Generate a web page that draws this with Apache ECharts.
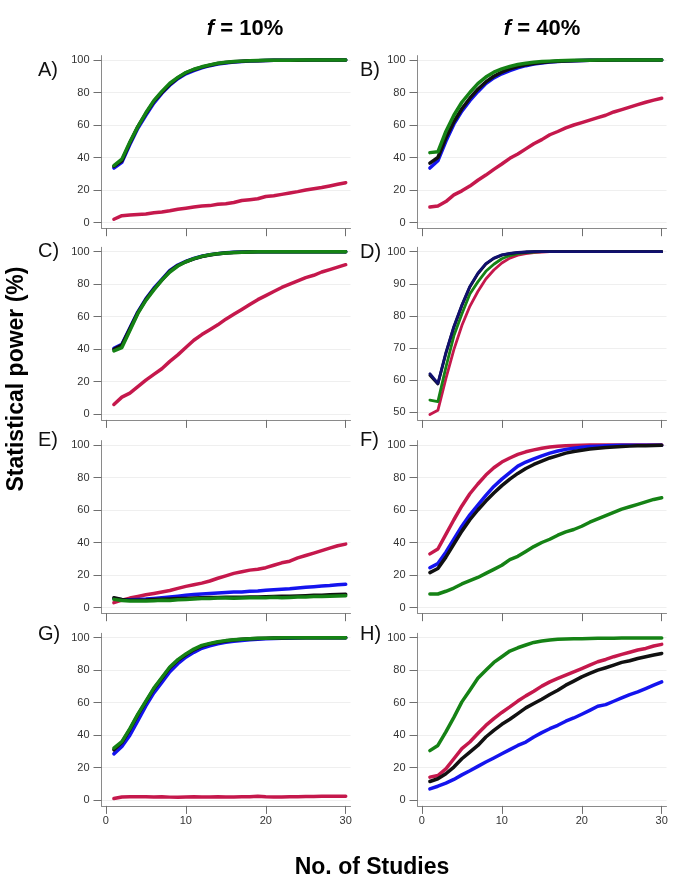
<!DOCTYPE html>
<html>
<head>
<meta charset="utf-8">
<title>Statistical power</title>
<script src="https://cdn.jsdelivr.net/npm/echarts@6.0.0/dist/echarts.min.js"></script>
<style>
html,body{margin:0;padding:0;background:#fff;}
#main{width:685px;height:885px;}
</style>
</head>
<body>
<div id="main"></div>
<script>
// x values: number of studies
var studies = [1,2,3,4,5,6,7,8,9,10,11,12,13,14,15,16,17,18,19,20,21,22,23,24,25,26,27,28,29,30];
var xTicks = [0,10,20,30];
var yTicks = [0,20,40,60,80,100];
var yTicksD = [50,60,70,80,90,100];

// A) f = 10%
var aBlue  = [33.5,37,48,58,66,73.5,79.5,84.5,88.5,91.5,93.5,95.2,96.5,97.5,98.2,98.7,99.1,99.4,99.6,99.7,99.8,99.8,99.9,99.9,99.9,100,100,100,100,100];
var aBlack = [34.5,38,49,59,67,74.5,80,85,89,92,94,95.6,96.8,97.8,98.4,98.9,99.2,99.5,99.6,99.7,99.8,99.9,99.9,99.9,100,100,100,100,100,100];
var aGreen = [35,39,49.5,59,67.5,75,80.7,85.7,89.3,92.3,94.3,95.8,97,98,98.6,99,99.3,99.5,99.7,99.8,99.8,99.9,99.9,100,100,100,100,100,100,100];
var aRed   = [2,4.2,4.6,5,5.3,6,6.5,7.2,8.2,8.8,9.5,10.1,10.4,11.2,11.6,12.3,13.5,14,14.6,16,16.5,17.3,18.2,19,20,20.8,21.5,22.5,23.5,24.5];
// B) f = 40%
var bBlue  = [33.5,38,50,60.5,68.5,75,80.5,85.5,89,91.5,93.5,95.2,96.5,97.5,98.2,98.8,99.1,99.4,99.6,99.7,99.8,99.8,99.9,99.9,100,100,100,100,100,100];
var bBlack = [36.5,40,52,62,70,76.5,82,86.5,90,92.5,94.5,96,97,97.8,98.4,98.9,99.2,99.4,99.6,99.7,99.8,99.9,99.9,100,100,100,100,100,100,100];
var bGreen = [43,43.5,56,66,74,80,85.5,89.5,92.5,94.5,96,97.2,98,98.6,99,99.3,99.5,99.7,99.8,99.9,99.9,100,100,100,100,100,100,100,100,100];
var bRed   = [9.5,10.2,12.9,17,19.5,22.4,26,29.2,32.7,36,39.5,42.2,45.3,48.5,51,54,56,58.2,60,61.5,63,64.5,66,68,69.5,71,72.5,74,75.3,76.5];
// C)
var cBlue  = [40.5,43,53,63,71,77.5,83,88.5,91.8,94,95.8,97.2,98.1,98.8,99.3,99.6,99.8,99.9,100,100,100,100,100,100,100,100,100,100,100,100];
var cBlack = [40,42.5,52.5,62.5,70.5,77,82.5,88,91.5,93.8,95.6,97,98,98.7,99.2,99.5,99.7,99.8,99.9,100,100,100,100,100,100,100,100,100,100,100];
var cGreen = [39,41,51.5,62,70,76.5,82.5,87.5,91.2,93.8,95.7,97.1,98.1,98.8,99.2,99.5,99.7,99.8,99.9,100,100,100,100,100,100,100,100,100,100,100];
var cRed   = [6,10.5,13,17,21,24.5,28,32.5,36.5,41,45.5,49,52,55,58.5,61.5,64.5,67.5,70.5,73,75.5,78,80,82,84,85.5,87.5,89,90.5,92];
// D)
var dBlue  = [62,59,68.6,76.7,83.4,89.2,93.3,96.3,98,99,99.5,99.8,99.9,100,100,100,100,100,100,100,100,100,100,100,100,100,100,100,100,100];
var dBlack = [61.5,58.8,68.3,76.5,83.2,89,93.1,96.1,97.9,98.9,99.4,99.7,99.9,100,100,100,100,100,100,100,100,100,100,100,100,100,100,100,100,100];
var dGreen = [53.8,53.3,64,73.8,80.6,86.8,90.6,93.9,96.1,97.8,98.8,99.4,99.7,99.9,100,100,100,100,100,100,100,100,100,100,100,100,100,100,100,100];
var dRed   = [49.3,50.6,60.5,69.5,77,83,87.6,91.5,94.3,96.5,98,98.9,99.4,99.7,99.9,100,100,100,100,100,100,100,100,100,100,100,100,100,100,100];
// E)
var eBlue  = [5.5,4.8,4.8,5,5.2,5.6,6,6.5,7,7.6,8,8.3,8.6,9,9.2,9.5,9.6,10,10.2,10.6,11,11.3,11.5,12,12.5,12.8,13.2,13.5,14,14.3];
var eBlack = [6,5,4.5,4.5,4.6,5,5.1,5.3,5.5,5.6,5.8,6,6.1,6.2,6.3,6.3,6.3,6.4,6.5,6.6,6.8,6.9,7,7.1,7.3,7.5,7.6,7.8,8,8.1];
var eGreen = [5,4.3,4,4,4,4.2,4.5,4.3,4.8,5,5.2,5.5,5.6,5.8,5.9,5.7,5.9,6,6,6,6.3,6,6.2,6.4,6.5,6.7,6.8,7,7.1,7.2];
var eRed   = [3,4.5,5.8,6.8,7.8,8.6,9.5,10.5,11.8,13,14,15,16.3,18,19.5,21,22,23,23.5,24.5,26,27.5,28.5,30.5,32,33.5,35,36.5,38,39];
// F)
var fBlue  = [24.5,27,34,42,50,57,63,69,74.5,79,83,87,89.5,91.5,93.3,95,96.3,97.3,98,98.6,99,99.3,99.5,99.7,99.8,99.9,99.9,99.9,99.9,99.9];
var fBlack = [21.5,24,31,39,47,54,60,65.5,70.5,75,79,82.5,85.5,88,90,92,93.5,95,96,96.8,97.5,98,98.5,98.8,99.1,99.3,99.5,99.6,99.7,99.8];
var fGreen = [8.3,8.3,10,12,14.5,16.5,18.5,21,23.5,26,29.5,31.5,34.5,37.5,40,42,44.5,46.5,48,50,52.5,54.5,56.5,58.5,60.5,62,63.5,65,66.5,67.5];
var fRed   = [33,36,45,54,62.5,70,76,81.5,86,89.5,92,94.2,95.8,97,98,98.7,99.2,99.5,99.7,99.8,100,100,100,100,100,100,100,100,100,100];
// G)
var gBlue  = [28.5,33,40,49,58,66,72.5,79,84,88,91,93.5,95,96.3,97.2,97.8,98.3,98.7,99,99.3,99.5,99.6,99.7,99.8,99.9,99.9,99.9,99.9,99.9,99.9];
var gBlack = [31,35.5,43.5,52.5,60.5,68.5,75,81.5,86,89.5,92.5,94.8,96.2,97.2,98,98.6,99,99.3,99.5,99.7,99.8,99.8,99.9,99.9,99.9,99.9,99.9,99.9,99.9,99.9];
var gGreen = [32,36,44,53,61,69,75.5,82,86.5,90,93,95.3,96.5,97.5,98.2,98.7,99.1,99.4,99.6,99.7,99.8,99.9,99.9,100,100,100,100,100,100,100];
var gRed   = [1,2,2.2,2.2,2.1,2,2.1,1.9,1.8,2,2.1,2,2,2.1,2,2,2.1,2.2,2.4,2.1,2,2,2.1,2.2,2.3,2.3,2.4,2.4,2.5,2.5];
// H)
var hBlue  = [7,8.6,10.5,12.8,15.6,18.1,20.8,23.5,26,28.6,31.1,33.7,35.8,38.9,41.6,44,46.1,48.6,50.6,52.9,55.3,57.8,58.8,60.9,63,65,66.7,68.7,70.8,72.8];
var hBlack = [11.5,13.2,16.3,20.4,25.5,29.6,33.7,38.9,43,46.7,49.8,53.3,56.8,59.5,62.1,65,67.7,70.8,73.3,75.9,78,80,81.5,83.1,84.8,85.8,87.2,88.3,89.3,90.3];
var hGreen = [30.5,33.7,42,51,60.5,67.7,75,80,84.8,88.3,91.8,93.8,95.5,97.1,97.9,98.6,99,99.2,99.3,99.4,99.5,99.6,99.7,99.7,99.8,99.8,99.8,99.8,99.8,99.8];
var hRed   = [14.2,15.2,19.3,25.5,31.7,35.8,41,46,50.2,54,57.4,61,64.2,67,70.2,72.8,74.9,77,79,81,83.1,85.2,86.6,88.3,89.7,91,92.4,93.4,94.9,95.9];

var FONT = '"Liberation Sans", Arial, Helvetica, sans-serif';
var colours = {blue:'#1414ee', black:'#111111', green:'#158215', red:'#c5184c', navy:'#10106e'};

var panels = [
	{label:'A)', col:0, row:0, lx:38, ly:71,  red:aRed, blue:aBlue, black:aBlack, green:aGreen},
	{label:'B)', col:1, row:0, lx:360, ly:71, red:bRed, blue:bBlue, black:bBlack, green:bGreen},
	{label:'C)', col:0, row:1, lx:38, ly:252, red:cRed, blue:cBlue, black:cBlack, green:cGreen},
	{label:'D)', col:1, row:1, lx:360, ly:253, red:dRed, blue:dBlue, black:dBlack, green:dGreen, d:true},
	{label:'E)', col:0, row:2, lx:38, ly:441, red:eRed, blue:eBlue, black:eBlack, green:eGreen},
	{label:'F)', col:1, row:2, lx:360, ly:441, red:fRed, blue:fBlue, black:fBlack, green:fGreen},
	{label:'G)', col:0, row:3, lx:38, ly:635, red:gRed, blue:gBlue, black:gBlack, green:gGreen},
	{label:'H)', col:1, row:3, lx:360, ly:635, red:hRed, blue:hBlue, black:hBlack, green:hGreen}
];

var colLeft = [101.5, 417.5];
var rowTop = [55.6, 247.3, 440.6, 633.3];
var gridW = 249, gridH = 172.6;

function pairs(vals){
	var out = [];
	for(var i=0;i<studies.length;i++){
		out.push([studies[i], vals[i]]);
	}
	return out;
}

var grids = [], xAxes = [], yAxes = [], series = [], graphics = [];

panels.forEach(function(p, i){
	grids.push({left: colLeft[p.col], top: rowTop[p.row], width: gridW, height: gridH, containLabel:false});
	xAxes.push({
		type:'value', gridIndex:i, min:-0.55, max:30.6,
		axisLine:{onZero:false, lineStyle:{color:'#8a8a8a', width:1}},
		axisTick:{customValues:xTicks, length:8, lineStyle:{color:'#6f6f6f'}},
		// only the bottom row carries x labels
		axisLabel:{show:p.row===3, customValues:xTicks, margin:10, fontSize:11, color:'#333', fontFamily:FONT},
		splitLine:{show:false}
	});
	var ticks = p.d ? yTicksD : yTicks;
	yAxes.push({
		type:'value', gridIndex:i,
		min: p.d ? 47.63 : -3.5,
		max: p.d ? 101.37 : 102.7,
		axisLine:{show:true, onZero:false, lineStyle:{color:'#8a8a8a', width:1}},
		axisTick:{show:true, customValues:ticks, length:8, lineStyle:{color:'#6f6f6f'}},
		axisLabel:{customValues:ticks, margin:12, fontSize:11, color:'#333', fontFamily:FONT},
		splitLine:{show:true, lineStyle:{color:'#efefef', width:1}}
	});
	var order = p.d ? ['red','green','black','blue'] : ['red','blue','black','green'];
	order.forEach(function(k, j){
		var c = colours[k];
		if(p.d && k==='blue') c = colours.navy;
		series.push({
			type:'line', xAxisIndex:i, yAxisIndex:i, z:2+j,
			data: pairs(p[k]), showSymbol:false, symbol:'none', smooth:false,
			lineStyle:{color:c, width: p.d ? 2.8 : 3.5, join:'round', cap:'round'},
			silent:true
		});
	});
	graphics.push({type:'text', left:p.lx, top:p.ly-11,
		style:{text:p.label, fontSize:20, fontFamily:FONT, fill:'#111'}});
});

graphics.push({type:'text', x:245, y:29,
	style:{text:'{i|f} = 10%', x:0, y:0, align:'center', verticalAlign:'middle', fontSize:22, fontWeight:'bold', fontFamily:FONT, fill:'#000',
		rich:{i:{fontStyle:'italic', fontWeight:'bold', fontSize:22, fontFamily:FONT}}}});
graphics.push({type:'text', x:542, y:29,
	style:{text:'{i|f} = 40%', x:0, y:0, align:'center', verticalAlign:'middle', fontSize:22, fontWeight:'bold', fontFamily:FONT, fill:'#000',
		rich:{i:{fontStyle:'italic', fontWeight:'bold', fontSize:22, fontFamily:FONT}}}});
graphics.push({type:'text', x:17, y:379, rotation:Math.PI/2,
	style:{text:'Statistical power (%)', align:'center', verticalAlign:'middle', fontSize:23, fontWeight:'bold', fontFamily:FONT, fill:'#000'}});
graphics.push({type:'text', x:372, y:868,
	style:{text:'No. of Studies', align:'center', verticalAlign:'middle', fontSize:23, fontWeight:'bold', fontFamily:FONT, fill:'#000'}});

var myChart = echarts.init(document.getElementById('main'));
myChart.setOption({
	backgroundColor:'#fff',
	animation:false,
	grid:grids,
	xAxis:xAxes,
	yAxis:yAxes,
	series:series,
	graphic:graphics
});
</script>
</body>
</html>
